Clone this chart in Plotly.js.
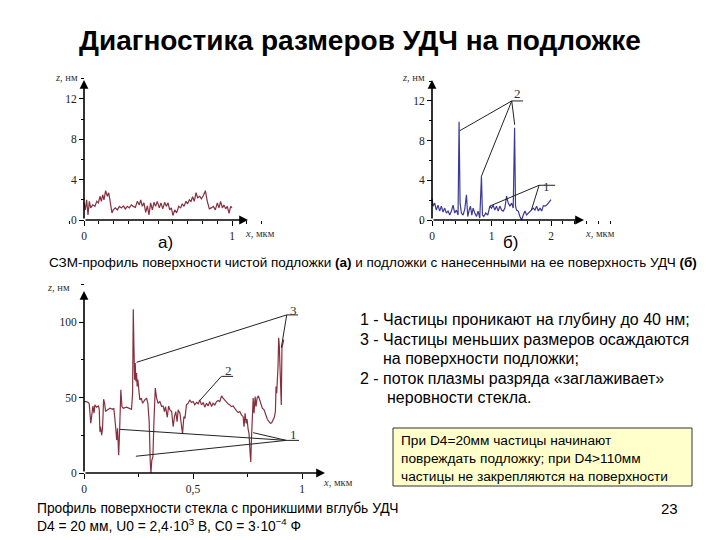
<!DOCTYPE html>
<html><head><meta charset="utf-8">
<script src="https://cdn.plot.ly/plotly-3.0.1.min.js"></script>
<style>html,body{margin:0;padding:0;background:#fff}#plot{width:720px;height:540px}</style>
</head><body><div id="plot"></div>
<script>
// ---- data: chart (а) clean substrate profile, x in µm, z in nm
const aX = [0,0.009,0.018,0.027,0.036,0.045,0.059,0.074,0.086,0.097,
0.108,0.117,0.126,0.135,0.146,0.158,0.167,0.178,0.189,0.198,
0.212,0.225,0.239,0.252,0.266,0.279,0.293,0.306,0.320,0.333,
0.347,0.360,0.374,0.383,0.394,0.405,0.417,0.428,0.439,0.450,
0.462,0.473,0.484,0.495,0.509,0.520,0.532,0.545,0.556,0.568,
0.579,0.590,0.601,0.613,0.626,0.640,0.653,0.664,0.676,0.689,
0.700,0.712,0.723,0.734,0.745,0.757,0.768,0.782,0.793,0.806,
0.820,0.833,0.847,0.860,0.874,0.887,0.901,0.912,0.923,0.935,
0.946,0.957,0.968,0.980,0.991,1.0];
const aZ = [1.7,1.0,2.0,0.5,1.85,1.2,1.5,1.35,1.85,1.7,
2.35,1.85,2.5,2.0,2.9,2.35,2.7,1.7,0.7,1.0,
1.2,1.0,1.35,1.2,1.4,1.1,1.35,1.2,1.5,1.35,
1.25,1.85,1.5,2.0,1.35,1.7,0.75,1.4,0.5,1.7,
1.0,1.75,1.35,1.85,1.2,1.7,1.1,1.75,1.35,1.7,
1.0,1.2,0.45,1.0,0.7,1.35,1.2,1.6,1.35,1.85,
1.6,2.0,1.85,2.3,1.85,2.7,2.2,2.35,2.1,2.4,
2.9,1.85,1.1,1.2,1.35,1.0,1.7,1.2,1.85,1.2,
1.5,1.1,1.35,0.65,1.35,1.2];

// ---- data: chart (б) substrate with particles
const bX = [0,0.017,0.045,0.073,0.101,0.129,0.157,0.185,0.213,0.242,
0.270,0.298,0.326,0.354,0.382,0.410,0.438,0.455,0.472,0.494,
0.522,0.551,0.579,0.601,0.624,0.646,0.669,0.691,0.719,0.747,
0.775,0.803,0.831,0.848,0.871,0.904,0.938,0.972,1.000,1.028,
1.056,1.084,1.112,1.140,1.169,1.197,1.225,1.253,1.281,1.309,
1.337,1.365,1.388,1.404,1.421,1.449,1.478,1.506,1.534,1.562,
1.590,1.618,1.646,1.674,1.702,1.730,1.758,1.787,1.815,1.843,
1.871,1.899,1.927,1.955,1.983,2.0];
const bZ = [2.2,1.4,1.7,1.0,1.5,0.9,1.4,0.8,1.2,0.7,
0.9,0.5,0.9,1.5,0.7,1.0,0.5,9.9,1.7,0.7,
0.5,1.1,2.55,0.35,1.0,1.4,0.5,1.2,0.7,0.35,
0.9,0.2,4.4,0.5,0.35,0.7,0.5,1.4,1.2,1.5,
1.0,1.4,0.9,1.4,1.0,0.9,1.2,2.4,1.7,1.4,
1.7,1.2,9.3,1.4,1.0,0.9,0.35,0,0.5,0.9,
0.5,0.7,0.9,1.0,1.2,1.0,1.4,0.9,1.2,0.9,
1.45,1.4,1.5,1.7,1.9,2.05];

// ---- data: chart (lower) glass surface with embedded particles
const cX = [0,0.009,0.020,0.024,0.031,0.037,0.041,0.046,0.050,0.058,
0.066,0.070,0.073,0.076,0.081,0.085,0.090,0.095,0.099,0.107,
0.119,0.131,0.137,0.145,0.150,0.154,0.159,0.163,0.169,0.174,
0.180,0.195,0.211,0.218,0.223,0.226,0.229,0.232,0.235,0.238,
0.241,0.244,0.247,0.252,0.256,0.263,0.269,0.279,0.287,0.293,
0.299,0.304,0.307,0.311,0.316,0.321,0.327,0.333,0.340,0.348,
0.356,0.363,0.369,0.374,0.382,0.388,0.394,0.402,0.409,0.415,
0.421,0.427,0.432,0.440,0.447,0.452,0.458,0.463,0.470,0.478,
0.485,0.493,0.501,0.508,0.516,0.524,0.531,0.539,0.547,0.554,
0.562,0.569,0.577,0.585,0.592,0.600,0.608,0.615,0.623,0.631,
0.638,0.646,0.653,0.661,0.669,0.676,0.684,0.692,0.699,0.707,
0.715,0.722,0.730,0.734,0.739,0.744,0.748,0.753,0.757,0.762,
0.765,0.768,0.771,0.776,0.780,0.785,0.789,0.794,0.800,0.806,
0.812,0.818,0.826,0.834,0.841,0.849,0.855,0.861,0.867,0.873,
0.878,0.881,0.884,0.887,0.890,0.893,0.896,0.899,0.902,0.905,
0.908,0.911,0.916];
const cZ = [47.3,47.3,46.7,45.8,32.9,42.9,44.4,39.6,45.1,43.6,
44.4,42.2,27.3,30.7,25.1,29.6,48.9,45.8,40.7,41.8,
42.9,42.2,42.9,30.7,21.8,29.6,11.8,26.2,55.1,44.0,
42.9,43.6,42.9,42.2,52.9,108.4,84.0,61.8,72.9,60.7,
66.2,57.3,61.8,52.9,48.4,49.6,46.2,48.4,49.6,46.2,
34.0,7.3,0,8.4,10.7,35.1,56.2,49.6,46.2,47.3,
44.0,44.4,40.7,44.0,36.9,44.4,41.8,40.7,30.7,37.3,
40.7,34.0,41.8,39.6,30.7,25.8,37.3,36.2,45.1,46.2,
48.4,46.7,47.3,45.1,46.7,45.8,48.4,45.1,46.7,43.6,
46.2,44.4,47.3,44.0,46.2,45.1,47.3,48.0,47.3,51.1,
49.6,48.0,46.7,45.8,45.1,44.0,44.4,42.2,41.3,40.0,
40.7,38.4,37.3,30.7,39.6,32.9,35.6,28.9,26.2,12.9,
7.3,21.8,35.1,49.6,39.6,50.7,44.0,49.6,51.1,48.4,
46.7,42.9,41.8,38.4,35.6,34.0,32.9,33.3,35.1,36.9,
40.7,57.3,52.9,61.8,70.7,89.6,84.0,70.7,50.7,45.1,
82.9,86.2,88.4];

// ---- tick labels
const aXTicks = [0,1], aXLabels = ['0','1'];
const aYTicks = [0,4,8,12], aYLabels = ['0','4','8','12'];
const bXTicks = [0,1,2], bXLabels = ['0','1','2'];
const bYTicks = [0,4,8,12], bYLabels = ['0','4','8','12'];
const cXTicks = [0,0.5,1], cXLabels = ['0','0,5','1'];
const cYTicks = [0,50,100], cYLabels = ['0','50','100'];

// ---- layout helpers (pixel geometry -> paper / ranges)
const W=720,H=540;
const px=v=>v/W, py=v=>1-v/H;
function geom(box, o, s){ // box:[x0,x1,y0,y1] px ; o:[ox,oy] ; s:[sx,sy]
  return {
    xd:[px(box[0]),px(box[1])], yd:[py(box[3]),py(box[2])],
    xr:[(box[0]-o[0])/s[0],(box[1]-o[0])/s[0]],
    yr:[(o[1]-box[3])/s[1],(o[1]-box[2])/s[1]],
    xpos:py(o[1]), ypos:px(o[0])
  };
}
const gA = geom([62,262,72,232],[84,220],[148,10.1]);
const gB = geom([410,612,72,232],[432,220],[59.5,9.92]);
const gC = geom([62,350,282,482],[84,473],[218,1.51]);

const serif = 'Liberation Serif, DejaVu Serif, serif';
const sans = 'Liberation Sans, Arial, sans-serif';
function xax(g,tv,tt,minor){
  return {domain:g.xd, range:g.xr, anchor:'free', position:g.xpos, showgrid:false, zeroline:false,
    showline:false, ticks:'outside', ticklen:5, tickwidth:1, tickcolor:'#000',
    tickmode:'array', tickvals:tv, ticktext:tt, tickfont:{family:serif,size:11.5,color:'#222'},
    minor:{dtick:minor, tick0:0, ticks:'outside', ticklen:3, tickwidth:1, tickcolor:'#000'}, fixedrange:true};
}
function yax(g,tv,tt,minor){
  return {domain:g.yd, range:g.yr, anchor:'free', position:g.ypos, showgrid:false, zeroline:false,
    showline:false, ticks:'outside', ticklen:5, tickwidth:1, tickcolor:'#000',
    tickmode:'array', tickvals:tv, ticktext:tt, tickfont:{family:serif,size:11.5,color:'#222'},
    minor:{dtick:minor, tick0:0, ticks:'outside', ticklen:3, tickwidth:1, tickcolor:'#000'}, fixedrange:true};
}

const red='#86303f', blue='#3a3a98';
const traces = [
  {x:aX,y:aZ,xaxis:'x',yaxis:'y',mode:'lines',line:{color:red,width:1.2},hoverinfo:'skip'},
  {x:bX,y:bZ,xaxis:'x2',yaxis:'y2',mode:'lines',line:{color:blue,width:1.2},hoverinfo:'skip'},
  {x:cX,y:cZ,xaxis:'x3',yaxis:'y3',mode:'lines',line:{color:red,width:1.2},hoverinfo:'skip'}
];

function arrow(xr,yr,x,y){
  return {xref:xr,yref:yr,axref:xr,ayref:yr,x:x,y:y,ax:0,ay:0,text:'',showarrow:true,
    arrowhead:2,arrowsize:1.1,arrowwidth:1.6,arrowcolor:'#000',standoff:0,startstandoff:0};
}
function txt(x,y,t,size,opts){
  return Object.assign({xref:'paper',yref:'paper',x:px(x),y:py(y),text:t,showarrow:false,
    xanchor:'left',yanchor:'middle',font:{family:sans,size:size,color:'#000'}},opts||{});
}
function lbl(x,y,t,size){
  return {xref:'paper',yref:'paper',x:px(x),y:py(y),text:t,showarrow:false,xanchor:'center',yanchor:'middle',
    font:{family:serif,size:size,color:'#333'}};
}
function seg(xr,yr,x0,y0,x1,y1){
  return {type:'line',xref:xr,yref:yr,x0:x0,y0:y0,x1:x1,y1:y1,line:{color:'#222',width:1}};
}

const annotations = [
  // axis arrows
  arrow('x','y',(248-84)/148,0), arrow('x','y',0,(220-80)/10.1),
  arrow('x2','y2',(584-432)/59.5,0), arrow('x2','y2',0,(220-80)/9.92),
  arrow('x3','y3',(325-84)/218,0), arrow('x3','y3',0,(473-291)/1.51),
  // axis titles
  lbl(66,77,'<i>z</i>, нм',10.5), lbl(260,233,'<i>x</i>, мкм',10.5),
  lbl(414,78,'<i>z</i>, нм',10.5), lbl(600,233,'<i>x</i>, мкм',10.5),
  lbl(58,287,'<i>z</i>, нм',10.5), lbl(338,482,'<i>x</i>, мкм',10.5),
  // leader labels
  lbl(517,94,'2',13), lbl(546,186,'1',13),
  lbl(293,310,'3',13), lbl(228,370,'2',13), lbl(293,434,'1',13),
  // texts
  txt(360,40,'<b>Диагностика размеров УДЧ на подложке</b>',28,{xanchor:'center'}),
  txt(165,242,'а)',17,{xanchor:'center'}),
  txt(510,242,'б)',17,{xanchor:'center'}),
  txt(373,262,'СЗМ-профиль поверхности чистой подложки <b>(а)</b> и подложки с нанесенными на ее поверхность УДЧ <b>(б)</b>',13.5,{xanchor:'center'}),
  txt(358,319,'1 - Частицы проникают на глубину до 40 нм;',16),
  txt(358,339,'3 - Частицы меньших размеров осаждаются',16),
  txt(381,358,'на поверхности подложки;',16),
  txt(358,378,'2 - поток плазмы разряда «заглаживает»',16),
  txt(385,397,'неровности стекла.',16),
  txt(399,440,'При D4=20мм частицы начинают',13.7),
  txt(399,458,'повреждать подложку; при D4>110мм',13.7),
  txt(399,476,'частицы не закрепляются на поверхности',13.7),
  txt(35,509,'Профиль поверхности стекла с проникшими вглубь УДЧ',13.8),
  txt(35,525,'D4 = 20 мм, U0 = 2,4·10<sup>3</sup> В, C0 = 3·10<sup>−4</sup> Ф',13.8),
  txt(669,509,'23',15,{xanchor:'center'})
];

const shapes = [
  // leader lines chart б
  seg('x2','y2',1.34,12,1.53,12), seg('x2','y2',1.34,12,0.466,9.0),
  seg('x2','y2',1.34,12,0.83,4.4), seg('x2','y2',1.34,12,1.39,9.6),
  seg('x2','y2',1.80,3.5,2.07,3.5), seg('x2','y2',1.80,3.5,0.97,1.4), seg('x2','y2',1.80,3.5,1.67,1.0),
  // leader lines lower chart
  seg('x3','y3',0.93,104.7,0.982,104.7), seg('x3','y3',0.93,104.7,0.241,73.3), seg('x3','y3',0.93,104.7,0.905,82.9),
  seg('x3','y3',0.63,64,0.684,64), seg('x3','y3',0.63,64,0.531,48),
  seg('x3','y3',0.928,21.6,0.986,21.6), seg('x3','y3',0.928,21.6,0.165,28.9),
  seg('x3','y3',0.928,21.6,0.238,11.1), seg('x3','y3',0.928,21.6,0.776,26.7),
  // note box
  {type:'rect',xref:'paper',yref:'paper',x0:px(393),x1:px(692),y0:py(486),y1:py(428),
   fillcolor:'#FFFFCC',line:{color:'#333',width:1},layer:'below'}
];

const layout = {
  width:W,height:H,margin:{l:0,r:0,t:0,b:0},paper_bgcolor:'#fff',plot_bgcolor:'rgba(0,0,0,0)',
  showlegend:false,
  xaxis:xax(gA,aXTicks,aXLabels,0.1), yaxis:yax(gA,aYTicks,aYLabels,2),
  xaxis2:xax(gB,bXTicks,bXLabels,0.2), yaxis2:yax(gB,bYTicks,bYLabels,2),
  xaxis3:xax(gC,cXTicks,cXLabels,0.25), yaxis3:yax(gC,cYTicks,cYLabels,25),
  annotations:annotations, shapes:shapes
};
Plotly.newPlot('plot',traces,layout,{staticPlot:true,displayModeBar:false});
</script></body></html>
